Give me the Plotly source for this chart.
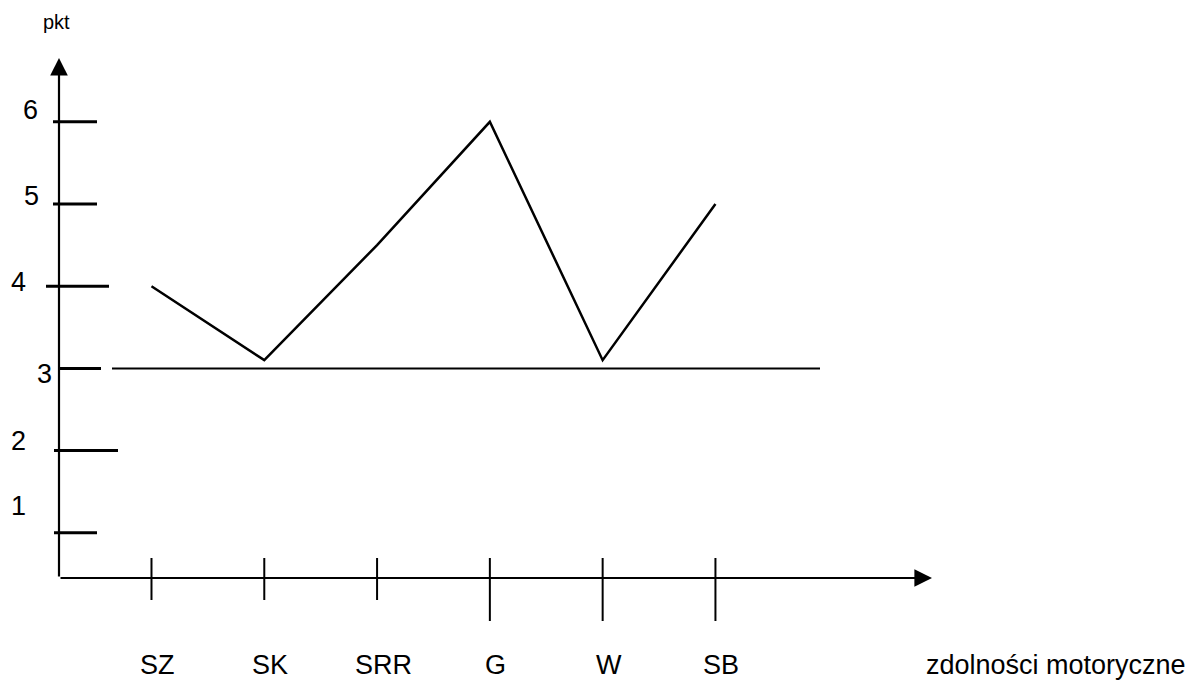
import plotly.graph_objects as go

# ---- data ----
categories = ["SZ", "SK", "SRR", "G", "W", "SB"]
positions = [1, 2, 3, 4, 5, 6]
scores = [4.0, 3.1, 4.5, 6.0, 3.1, 5.0]
reference_level = 3
y_tick_values = [1, 2, 3, 4, 5, 6]
y_tick_labels = ["1", "2", "3", "4", "5", "6"]
y_axis_title = "pkt"
x_axis_title = "zdolności motoryczne"

# ---- style ----
X_RANGE = [0.18, 7.92]
Y_RANGE = [0.45, 6.776]
FONT = "Liberation Sans, Arial, sans-serif"
INK = "black"
# y tick mark extents (pixels relative to the vertical axis)
y_tick_extent = {1: (-5, 38), 2: (-5, 59), 3: (1, 42), 4: (-13, 50), 5: (-6, 38), 6: (-6, 38)}
# y label offsets (xshift, yshift) in pixels
y_label_shift = {1: (-41, 27), 2: (-41, 10), 3: (-15, -6), 4: (-41, 4), 5: (-28, 8), 6: (-29, 12)}
# x tick marks: (up, down) pixels
x_tick_extent = {"SZ": (20, -22), "SK": (20, -22), "SRR": (20, -22),
                 "G": (20, -43), "W": (20, -43), "SB": (20, -43)}

fig = go.Figure()
fig.add_trace(go.Scatter(x=positions, y=scores, mode="lines",
                         line=dict(color=INK, width=2.5), hoverinfo="skip",
                         showlegend=False))

shapes = []
# reference line at level 3
shapes.append(dict(type="line", xref="paper", yref="y", xsizemode="pixel", xanchor=0,
                   x0=53, x1=761, y0=reference_level, y1=reference_level,
                   line=dict(color=INK, width=2)))
# y tick marks
for v in y_tick_values:
    a, b = y_tick_extent[v]
    shapes.append(dict(type="line", xref="paper", yref="y", xsizemode="pixel", xanchor=0,
                       x0=a, x1=b, y0=v, y1=v, line=dict(color=INK, width=3)))
# x tick marks
for c, p in zip(categories, positions):
    up, down = x_tick_extent[c]
    shapes.append(dict(type="line", xref="x", yref="paper", ysizemode="pixel", yanchor=0,
                       x0=p, x1=p, y0=down, y1=up, line=dict(color=INK, width=2)))

annotations = []
# axes with arrowheads
annotations.append(dict(x=X_RANGE[1], y=Y_RANGE[0], ax=X_RANGE[0], ay=Y_RANGE[0],
                        xref="x", yref="y", axref="x", ayref="y", text="", showarrow=True,
                        arrowhead=2, arrowsize=1.6, arrowwidth=2.2, arrowcolor=INK))
annotations.append(dict(x=X_RANGE[0], y=Y_RANGE[1], ax=X_RANGE[0], ay=Y_RANGE[0],
                        xref="x", yref="y", axref="x", ayref="y", text="", showarrow=True,
                        arrowhead=2, arrowsize=1.6, arrowwidth=2.2, arrowcolor=INK))
# y labels
for v, t in zip(y_tick_values, y_tick_labels):
    xs, ys = y_label_shift[v]
    annotations.append(dict(x=X_RANGE[0], y=v, xref="x", yref="y", text=t, showarrow=False,
                            xanchor="center", yanchor="middle", xshift=xs, yshift=ys,
                            font=dict(family=FONT, size=27, color=INK)))
# category labels
for c, p in zip(categories, positions):
    annotations.append(dict(x=p, y=Y_RANGE[0], xref="x", yref="y", text=c, showarrow=False,
                            xanchor="center", yanchor="middle", xshift=6, yshift=-87,
                            font=dict(family=FONT, size=27, color=INK)))
annotations.append(dict(x=X_RANGE[1], y=Y_RANGE[0], xref="x", yref="y", text=x_axis_title,
                        showarrow=False, xanchor="left", yanchor="middle", xshift=-8, yshift=-87,
                        font=dict(family=FONT, size=27, color=INK)))
annotations.append(dict(x=X_RANGE[0], y=Y_RANGE[1], xref="x", yref="y", text=y_axis_title,
                        showarrow=False, xanchor="center", yanchor="middle", xshift=-3, yshift=36,
                        font=dict(family=FONT, size=20, color=INK)))

# the page body adds an 8px offset, so the figure is 8px smaller and shifted
fig.update_layout(
    width=1192, height=674,
    margin=dict(l=51, r=268, t=50, b=104),
    paper_bgcolor="white", plot_bgcolor="white",
    xaxis=dict(range=X_RANGE, visible=False, fixedrange=True),
    yaxis=dict(range=Y_RANGE, visible=False, fixedrange=True),
    shapes=shapes, annotations=annotations, showlegend=False,
)

fig.write_html("out.html")
